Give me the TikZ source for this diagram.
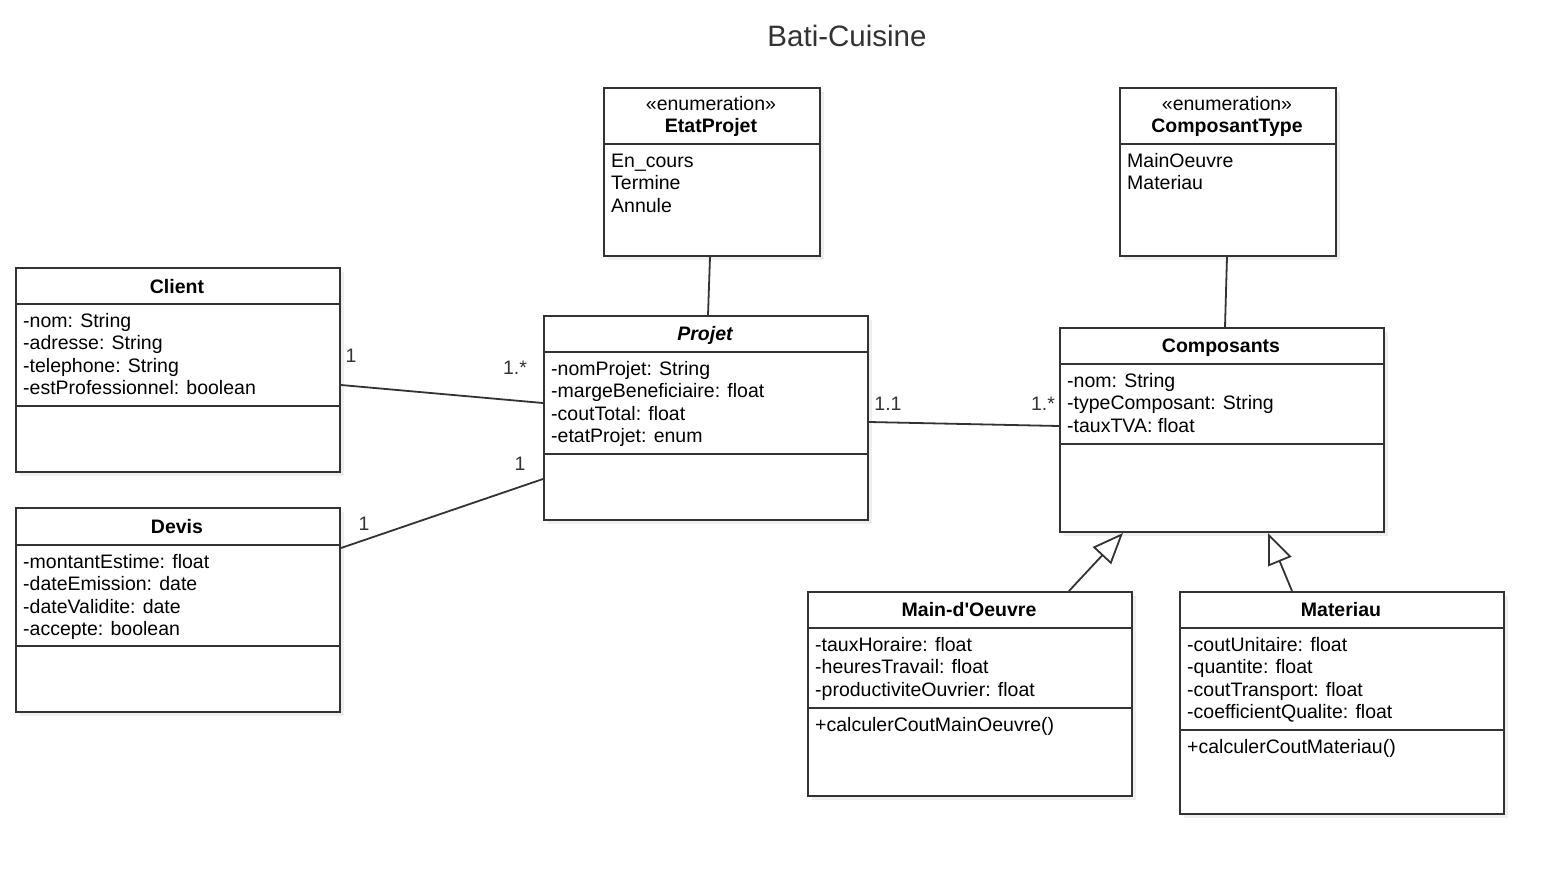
\documentclass[tikz,border=0pt]{standalone}
\usepackage{fontspec}
\setmainfont{Liberation Sans}[Ligatures=TeXOff]
\usetikzlibrary{arrows.meta,shadows}

\definecolor{umlline}{HTML}{333333}

\tikzset{
  classbox/.style={draw=umlline, line width=2pt, fill=white, anchor=north west, inner sep=0pt,
    drop shadow={shadow xshift=4pt, shadow yshift=-4pt, opacity=0.12}},
  rule/.style={draw=umlline, line width=2pt},
  classname/.style={font=\fontsize{19.5}{22.6}\selectfont\bfseries, anchor=base, inner sep=0pt},
  stereo/.style={font=\fontsize{19.5}{22.6}\selectfont, anchor=base, inner sep=0pt},
  member/.style={font=\fontsize{19.5}{22.6}\selectfont, anchor=base west, inner sep=0pt},
  mult/.style={font=\fontsize{19.5}{22.6}\selectfont, anchor=base, inner sep=0pt, text=umlline},
  assoc/.style={draw=umlline, line width=1.8pt},
  inherit/.style={draw=umlline, line width=1.8pt, -{Triangle[length=31pt, width=25pt, fill=white]}}
}

% frame of a class: name, left, top, right, bottom, rule heights
\newcommand\classframe[6]{%
  \node[classbox, minimum width={#4-#2}, minimum height={#5-#3}] (#1) at (#2,#3) {};
  \foreach \r in {#6} \draw[rule] (#2,\r) -- (#4,\r);
}
% one text line per item: prefix, x, first baseline, style, items
\newcommand\classlines[5]{%
  \foreach \t [count=\k] in {#5}
    \node[#4] (#1\k) at (#2,{#3+22.6*(\k-1)}) {\t};
}

\begin{document}
\begin{tikzpicture}[x=1pt, y=-1pt]
\useasboundingbox[fill=white] (0,0) rectangle (1564,873);

\node[font=\fontsize{29.5}{34}\selectfont, text=umlline, anchor=base, inner sep=0pt] (title) at (847,46.5) {Bati-Cuisine};

% enumerations
\classframe{etat}{603}{87}{819}{255}{144}
\node[stereo] (etat-st) at (711,110) {«enumeration»};
\node[classname] (etat-name) at (711,132) {EtatProjet};
\classlines{etat-v}{611}{167}{member}{En\_cours, Termine, Annule}

\classframe{ctype}{1119}{87}{1335}{255}{144}
\node[stereo] (ctype-st) at (1227,110) {«enumeration»};
\node[classname] (ctype-name) at (1227,132) {ComposantType};
\classlines{ctype-v}{1127}{167}{member}{MainOeuvre, Materiau}

% classes
\classframe{client}{15}{267}{339}{471}{304,406}
\node[classname] (client-name) at (177,293) {Client};
\classlines{client-a}{23}{327}{member}{-nom: String, -adresse: String, -telephone: String, -estProfessionnel: boolean}

\classframe{devis}{15}{507}{339}{711}{545,646}
\node[classname] (devis-name) at (177,533) {Devis};
\classlines{devis-a}{23}{568}{member}{-montantEstime: float, -dateEmission: date, -dateValidite: date, -accepte: boolean}

\classframe{projet}{543}{315}{867}{519}{352,454}
\node[classname, font=\fontsize{19.5}{22.6}\selectfont\bfseries\itshape] (projet-name) at (705,340.5) {Projet};
\classlines{projet-a}{551}{375}{member}{-nomProjet: String, -margeBeneficiaire: float, -coutTotal: float, -etatProjet: enum}

\classframe{comp}{1059}{327}{1383}{531}{364,444}
\node[classname] (comp-name) at (1221,352.5) {Composants};
\classlines{comp-a}{1067}{387}{member}{-nom: String, -typeComposant: String, -tauxTVA: float}

\classframe{main}{807}{591}{1131}{795}{628,708}
\node[classname] (main-name) at (969,616.5) {Main-d'Oeuvre};
\classlines{main-a}{815}{651}{member}{-tauxHoraire: float, -heuresTravail: float, -productiviteOuvrier: float}
\classlines{main-o}{815}{731}{member}{+calculerCoutMainOeuvre()}

\classframe{mat}{1179}{591}{1503}{813}{628,730}
\node[classname] (mat-name) at (1341,616.5) {Materiau};
\classlines{mat-a}{1187}{651}{member}{-coutUnitaire: float, -quantite: float, -coutTransport: float, -coefficientQualite: float}
\classlines{mat-o}{1187}{753}{member}{+calculerCoutMateriau()}

% associations
\draw[assoc] ([yshift=-15pt]client.east) -- ([yshift=15pt]projet.west);
\draw[assoc] ([yshift=-41pt]devis.north east) -- ([yshift=42pt]projet.south west);
\draw[assoc] ([yshift=-4pt]projet.east) -- ([yshift=4pt]comp.west);
\draw[assoc] ([xshift=-2pt]etat.south) -- ([xshift=2pt]projet.north);
\draw[assoc] ([xshift=-1pt]ctype.south) -- ([xshift=3pt]comp.north);

\node[mult] (m1) at (351,362) {1};
\node[mult] (m2) at (515,374) {1.*};
\node[mult] (m3) at (364,530) {1};
\node[mult] (m4) at (520,470) {1};
\node[mult] (m5) at (888,410) {1.1};
\node[mult] (m6) at (1043,410) {1.*};

% generalisation
\draw[inherit] ([xshift=99pt]main.north) -- ([xshift=-99pt]comp.south);
\draw[inherit] ([xshift=-50pt]mat.north) -- ([xshift=46pt]comp.south);

\end{tikzpicture}
\end{document}
